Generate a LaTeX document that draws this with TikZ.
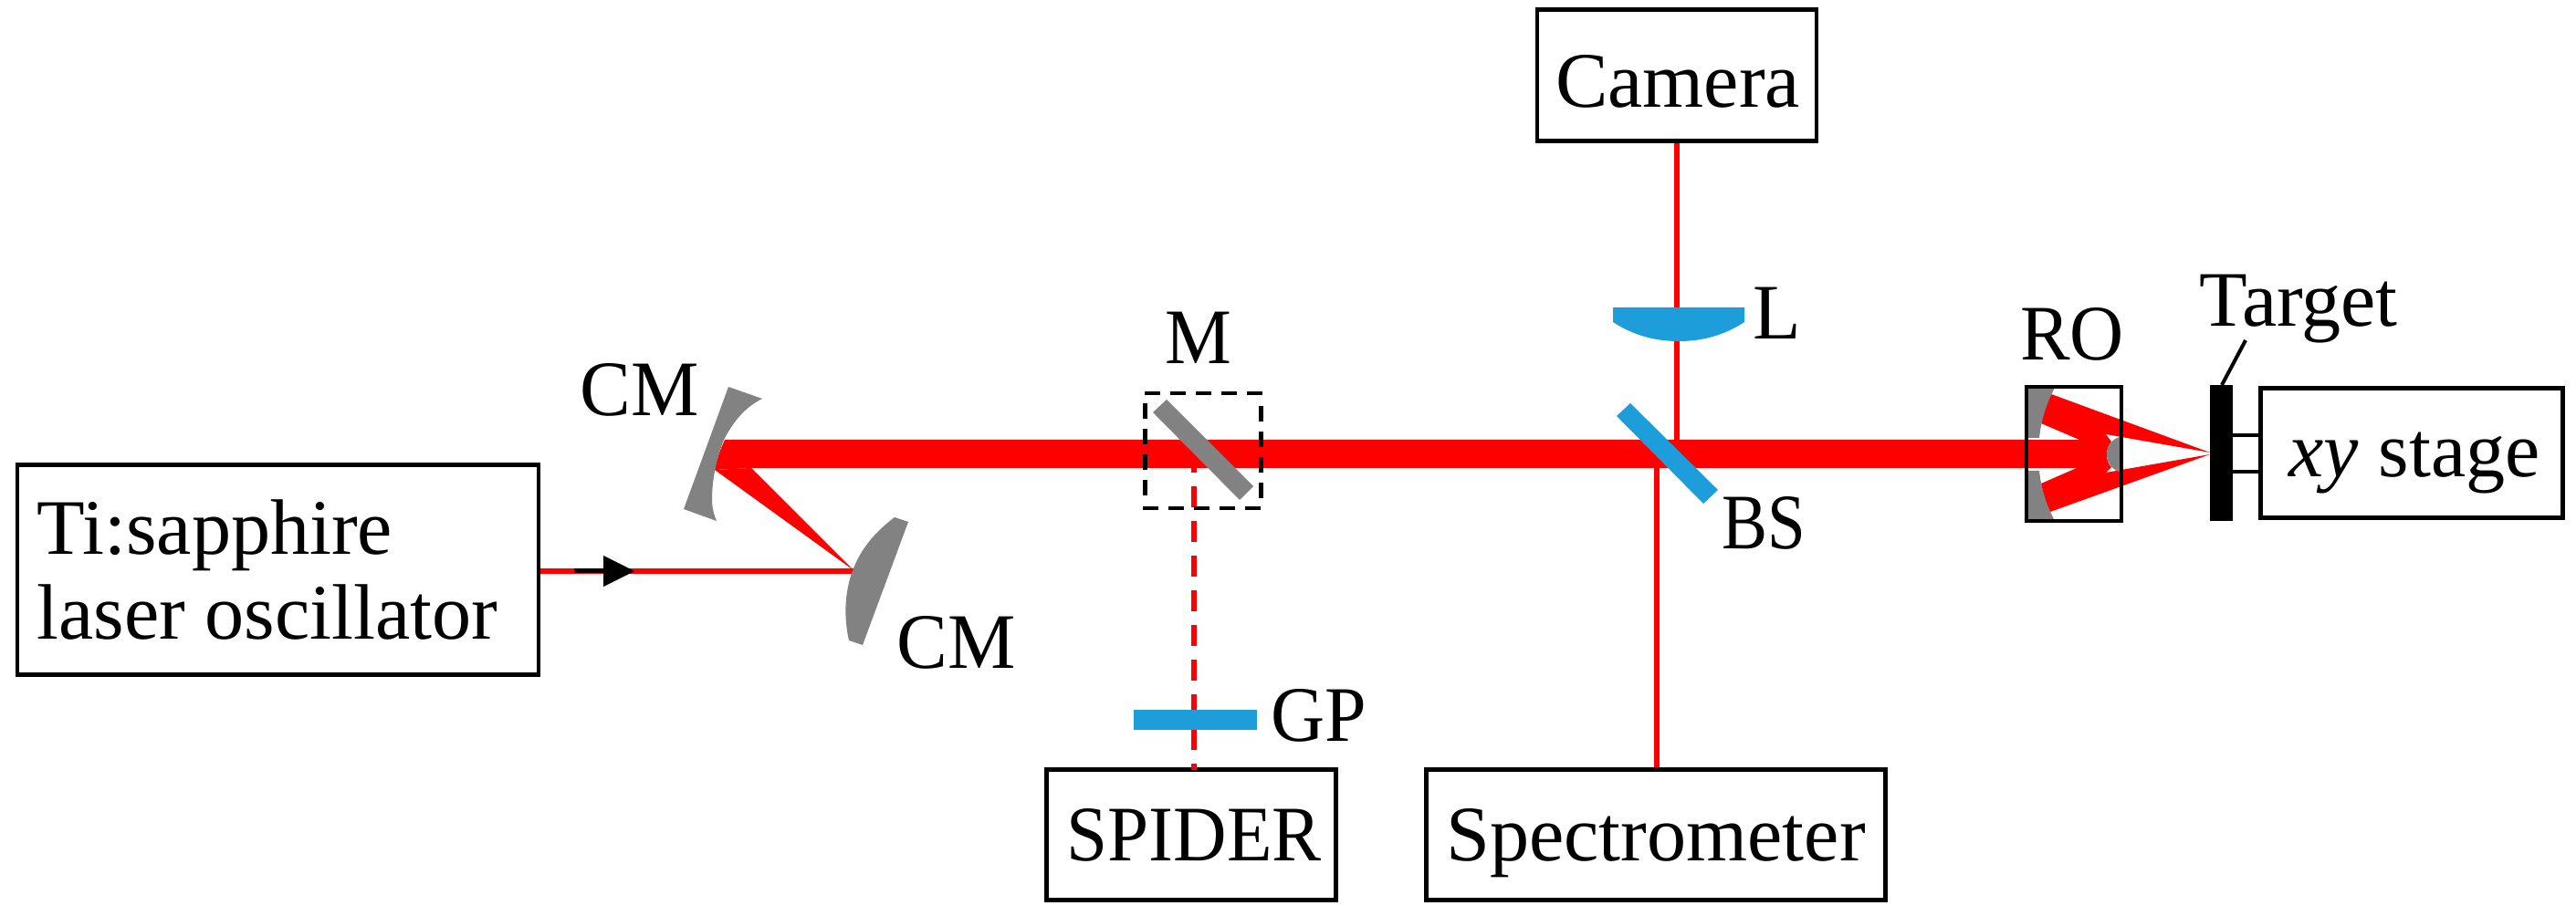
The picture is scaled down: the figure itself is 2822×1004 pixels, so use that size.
\documentclass[tikz,border=0pt]{standalone}
\usepackage{fontspec}
\setmainfont{Liberation Serif}
\definecolor{beam}{RGB}{255,0,0}
\definecolor{optgrey}{RGB}{130,130,130}
\definecolor{optblue}{RGB}{29,157,217}
\tikzset{
  instrument/.style={draw=black,line width=0.047cm,fill=white,inner sep=0pt},
  lbl/.style={inner sep=0pt,font=\fontsize{24.5pt}{30pt}\selectfont,anchor=base},
  thinbeam/.style={draw=beam,line width=0.06cm},
  greyoptic/.style={fill=optgrey,draw=none},
  blueoptic/.style={fill=optblue,draw=none},
  redfill/.style={fill=beam,draw=none},
  dashedge/.style={draw=black,line width=0.047cm,dash pattern=on 0.17cm off 0.11cm},
}
\begin{document}
\begin{tikzpicture}[x=0.01cm,y=-0.01cm]
\useasboundingbox (0,0) rectangle (2822,1004);
\fill[white] (0,0) rectangle (2822,1004);
% instruments
\node[instrument,minimum width=5.705cm,minimum height=2.305cm] (laser) at (304.5,624.5) {};
\node[lbl,anchor=base west] (lasertxt1) at (40,608) {Ti:sapphire};
\node[lbl,anchor=base west] (lasertxt2) at (40,701) {laser oscillator};
\node[instrument,minimum width=3.06cm,minimum height=1.44cm] (camera) at (1837,82.5) {};
\node[lbl] (cameratxt) at (1838,118) {Camera};
\node[instrument,minimum width=5.03cm,minimum height=1.43cm] (spec) at (1814,915) {};
\node[lbl] (spectxt) at (1814,943) {Spectrometer};
\node[instrument,minimum width=3.17cm,minimum height=1.43cm] (spider) at (1305,915) {};
\node[lbl] (spidertxt) at (1308,943) {\scalebox{0.94}[1]{SPIDER}};
\node[instrument,minimum width=3.31cm,minimum height=1.42cm] (stage) at (2642,496.5) {};
\node[lbl] (stagetxt) at (2645,523) {\emph{xy} stage};
% thin beams
\coordinate (cmtwo) at (935,626);
\draw[thinbeam] (laser.east |- cmtwo) -- (cmtwo);
\draw[thinbeam] (camera.south) -- (1837,482);
\draw[thinbeam] (1815,513) -- (spec.north -| 1815,0);
\draw[thinbeam,dash pattern=on 0.23cm off 0.15cm,dash phase=0.18cm] (1308,513) -- (1308,844);
% beam arrow
\draw[black,line width=0.05cm] (629,626) -- (665,626);
\fill[black] (661,609) -- (695,626) -- (661,643) -- cycle;
% wedge and main beam
\fill[redfill] (935,625) -- (783,515) -- (823,513) -- cycle;
\fill[redfill] (794,482) .. controls (789,493) and (785,503) .. (783,515) -- (823,513) -- (2225,513) -- (2225,482) -- cycle;
% curved mirrors
\fill[greyoptic] (798,424) -- (835,437) .. controls (815,447) and (803,463) .. (793,482) .. controls (785,502) and (780,525) .. (780,548) .. controls (780,556) and (782,564) .. (785,571) -- (749,558) -- cycle;
\fill[greyoptic] (980,567) -- (995,572) -- (945,707) -- (930,702) .. controls (925,680) and (924,650) .. (935,623) .. controls (944,600) and (960,582) .. (980,567) -- cycle;
% objective: converging rays
\fill[redfill] (2247,432) -- (2421,496) -- (2307,476) -- (2313,484) .. controls (2309,489) and (2308,494) .. (2308,498) .. controls (2308,503) and (2309,508) .. (2313,512) -- (2307,518) -- (2421,498) -- (2246,561) .. controls (2241,551) and (2238,541) .. (2236,530) -- (2275,513) -- (2278,482) -- (2236,464) .. controls (2238,452) and (2242,442) .. (2247,432) -- cycle;
\fill[redfill] (2222,482) rectangle (2285,513);
\fill[greyoptic] (2220,425) -- (2251,425) .. controls (2242,442) and (2236,460) .. (2234,480) -- (2220,480) -- cycle;
\fill[greyoptic] (2220,516) -- (2234,516) .. controls (2236,535) and (2241,552) .. (2250,569) -- (2220,569) -- cycle;
\fill[greyoptic] (2324,479) -- (2322,479) .. controls (2314,481) and (2308,489) .. (2308,498) .. controls (2308,507) and (2314,515) .. (2322,517) -- (2324,517) -- cycle;
\node[draw=black,line width=0.04cm,minimum width=1.04cm,minimum height=1.47cm,inner sep=0pt] (robox) at (2272,497.5) {};
% flat optics
\fill[greyoptic] (1278,438) -- (1263,452) -- (1358,548) -- (1373,533) -- cycle;
\fill[blueoptic] (1786,442) -- (1771,456) -- (1866,552) -- (1882,537) -- cycle;
\fill[blueoptic] (1767,337) -- (1911,337) -- (1911,353) .. controls (1888,368) and (1864,374) .. (1839,374) .. controls (1814,374) and (1790,368) .. (1767,353) -- cycle;
\fill[blueoptic] (1242,778) rectangle (1377,800);
\draw[dashedge] (1254,431) -- (1384,431);
\draw[dashedge] (1381.5,445) -- (1381.5,546);
\draw[dashedge] (1252,557) -- (1381,557);
\draw[dashedge] (1254.5,442) -- (1254.5,544);
% target
\fill[black] (2421,422) rectangle (2446,571);
\coordinate (targettop) at (2434,422);
\coordinate (targetleader) at (2460,373);
\draw[black,line width=0.04cm] (targettop) -- (targetleader);
\draw[black,line width=0.047cm] (2446,477) -- (stage.west |- 0,477);
\draw[black,line width=0.047cm] (2446,517) -- (stage.west |- 0,517);
% labels
\node[lbl] (cmone) at (701,456) {\scalebox{0.97}[1]{CM}};
\node[lbl] (cmtwolbl) at (1048,733) {\scalebox{0.97}[1]{CM}};
\node[lbl] (m) at (1313,399) {\scalebox{0.95}[1]{M}};
\node[lbl] (l) at (1947,372) {L};
\node[lbl] (bs) at (1932,602) {\scalebox{0.87}[1]{BS}};
\node[lbl] (gp) at (1445,812) {\scalebox{0.95}[1]{GP}};
\node[lbl] (ro) at (2270,395) {\scalebox{0.95}[1]{RO}};
\node[lbl] (target) at (2518,358) {Target};
\end{tikzpicture}
\end{document}
